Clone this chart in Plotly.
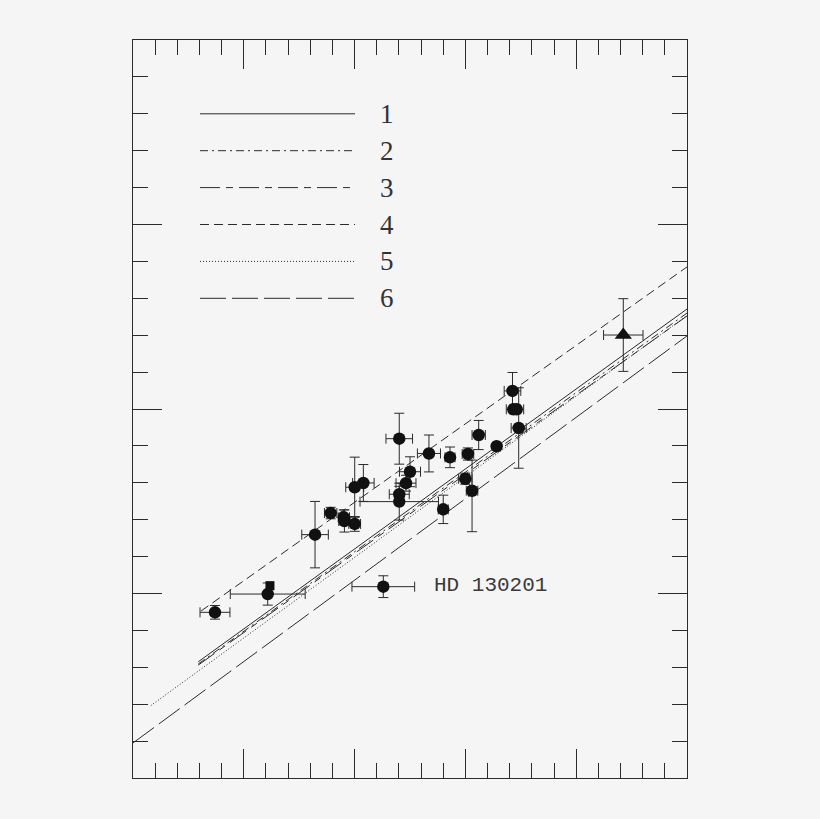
import plotly.graph_objects as go

# data points (circles)
pt_x = [1.643, 1.784, 1.903, 1.908, 2.001, 2.001, 2.079, 2.403, 2.671, 2.500,
        2.464, 2.403, 2.403, 2.800, 2.861, 3.023, 3.120, 3.282, 3.425, 3.432,
        3.463, 3.481, 2.999, 3.060, 0.740, 1.216, 2.259]
pt_y = [1.319, 1.436, 1.413, 1.393, 1.377, 1.576, 1.599, 1.839, 1.759, 1.660,
        1.598, 1.538, 1.498, 1.456, 1.738, 1.756, 1.859, 1.798, 2.098, 1.998,
        1.998, 1.897, 1.622, 1.557, 0.898, 0.997, 1.037]
pt_xerr = [0.12, 0.056, 0.051, 0.051, 0.053, 0.081, 0.097, 0.12, 0.104, 0.095,
           0.09, 0.09, 0.354, 0.045, 0.045, 0.052, 0.06, 0.0, 0.075, 0.063,
           0.063, 0.068, 0.06, 0.052, 0.135, 0.338, 0.283]
pt_yerr_up = [0.18, 0.031, 0.04, 0.06, 0.04, 0.163, 0.10, 0.138, 0.10, 0.081,
              0.043, 0.043, 0.10, 0.077, 0.056, 0.033, 0.079, 0.0, 0.10, 0.0,
              0.0, 0.218, 0.03, 0.166, 0.037, 0.06, 0.059]
pt_yerr_dn = [0.18, 0.031, 0.04, 0.06, 0.04, 0.163, 0.10, 0.138, 0.10, 0.081,
              0.043, 0.043, 0.10, 0.077, 0.056, 0.033, 0.079, 0.0, 0.10, 0.0,
              0.0, 0.218, 0.03, 0.222, 0.037, 0.06, 0.059]

# square and triangle
sq_x, sq_y, sq_yerr = [1.236], [1.042], [0.02]
tri_x, tri_y, tri_xerr, tri_yerr = [4.425], [2.401], [0.178], [0.197]

# model lines 1..6 (end points)
line_names = ["1", "2", "3", "4", "5", "6"]
line_x = [[0.589, 5.0], [0.589, 5.0], [0.589, 5.0], [0.614, 5.0], [0.160, 5.0], [0.0, 5.0]]
line_y = [[0.630, 2.542], [0.618, 2.520], [0.612, 2.504], [0.905, 2.770], [0.392, 2.507], [0.190, 2.396]]
line_dash = ["solid", "8px,4px,2px,4px", "20px,6px,7px,6px", "9px,5px", "1px,2px", "26px,6px"]

# legend rows
leg_y = [3.6, 3.4, 3.2, 3.0, 2.8, 2.6]
leg_x = [0.605, 2.004]

ink = "#2b2b2b"
bg = "#f5f5f5"
fig = go.Figure()

for i in range(6):
    fig.add_trace(go.Scatter(x=line_x[i], y=line_y[i], mode="lines",
                             line=dict(color=ink, width=1, dash=line_dash[i]),
                             showlegend=False, hoverinfo="skip"))
    fig.add_trace(go.Scatter(x=leg_x, y=[leg_y[i], leg_y[i]], mode="lines",
                             line=dict(color=ink, width=1, dash=line_dash[i]),
                             showlegend=False, hoverinfo="skip"))
    fig.add_annotation(x=2.29, y=leg_y[i], text=line_names[i], showarrow=False,
                       xanchor="center", yanchor="middle",
                       font=dict(family="Liberation Serif", size=27, color="#333"))

fig.add_trace(go.Scatter(
    x=pt_x, y=pt_y, mode="markers",
    marker=dict(symbol="circle", size=12.5, color="#111"),
    error_x=dict(type="data", array=pt_xerr, color=ink, thickness=1, width=5),
    error_y=dict(type="data", array=pt_yerr_up, arrayminus=pt_yerr_dn, symmetric=False,
                 color=ink, thickness=1, width=5),
    showlegend=False))

fig.add_trace(go.Scatter(
    x=sq_x, y=sq_y, mode="markers",
    marker=dict(symbol="square", size=9, color="#111"),
    error_y=dict(type="data", array=sq_yerr, color=ink, thickness=1, width=4),
    showlegend=False))

fig.add_trace(go.Scatter(
    x=tri_x, y=tri_y, mode="markers",
    marker=dict(symbol="triangle-up", size=15, color="#111"),
    error_x=dict(type="data", array=tri_xerr, color=ink, thickness=1, width=5),
    error_y=dict(type="data", array=tri_yerr, color=ink, thickness=1, width=5),
    showlegend=False))

fig.add_annotation(x=2.699, y=1.041, text="HD 130201", showarrow=False,
                   xanchor="left", yanchor="middle",
                   font=dict(family="Liberation Mono", size=21, color="#3a3a3a"))

axis_style = dict(showticklabels=False, ticks="inside", ticklen=29, tickcolor=ink,
                  tickwidth=1, tick0=0, dtick=1, showline=True, linecolor=ink,
                  linewidth=1, mirror="ticks", showgrid=False, zeroline=False,
                  minor=dict(ticks="inside", ticklen=15, dtick=0.2, tickcolor=ink,
                             tickwidth=1, showgrid=False))

fig.update_xaxes(range=[0, 5], **axis_style)
fig.update_yaxes(range=[0, 4], **axis_style)

# page has an 8px body margin, so the figure is shrunk to keep the plot box in place
fig.update_layout(width=812, height=811,
                  margin=dict(l=125, r=133, t=32, b=41),
                  paper_bgcolor=bg, plot_bgcolor=bg)

fig.write_html("out.html",
               post_script="document.body.style.background='%s';" % bg)
